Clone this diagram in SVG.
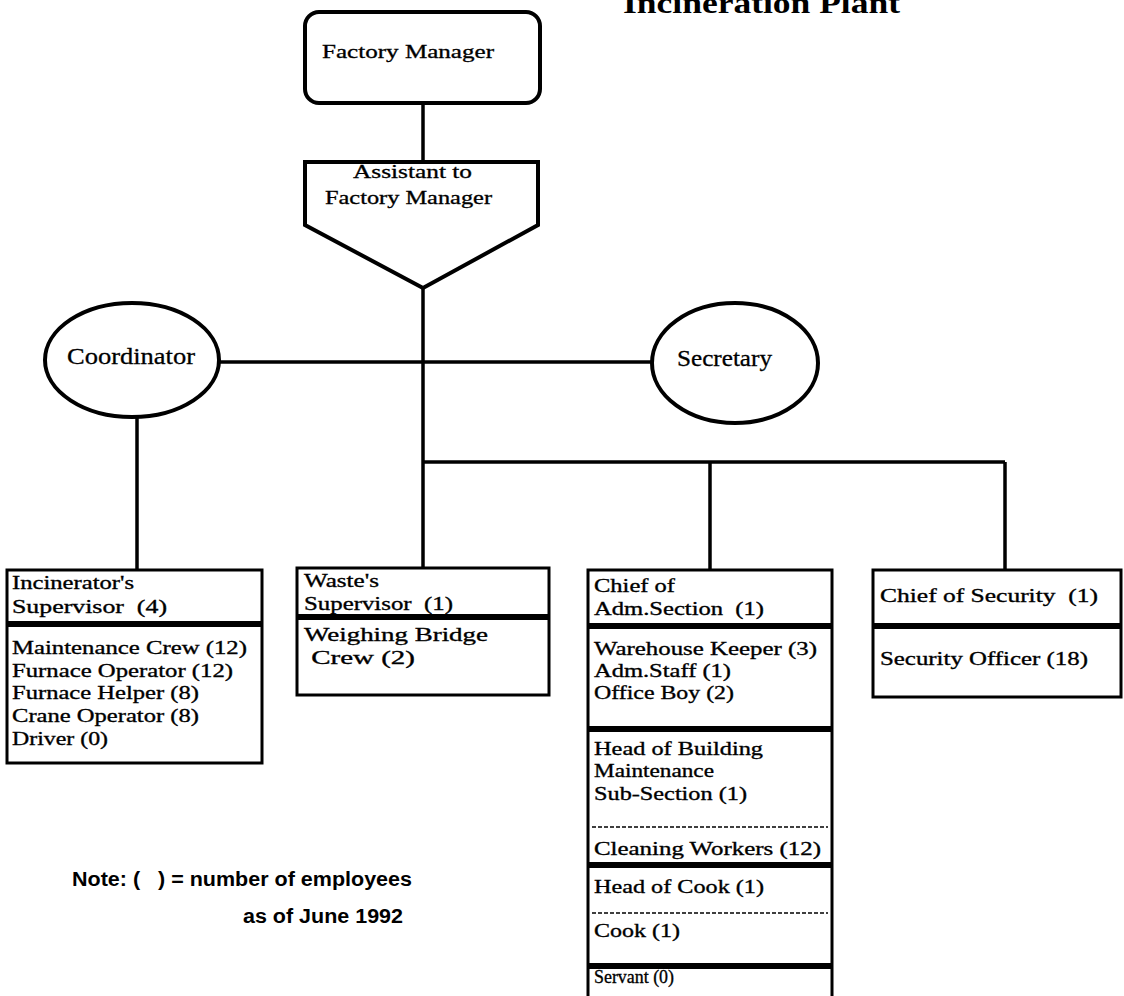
<svg xmlns="http://www.w3.org/2000/svg" width="1124" height="996" viewBox="0 0 1124 996">
<style>
.bg{fill:#fff}
.shape{fill:#fff;stroke:#000;stroke-width:4}
.box{fill:#fff;stroke:#000;stroke-width:3}
.sep{stroke:#000;stroke-width:6}
.dash{stroke:#000;stroke-width:1.5;stroke-dasharray:4 2}
.conn{stroke:#000;stroke-width:3.5;fill:none}
text{white-space:pre}
.t{font-family:"Liberation Serif","Times New Roman",serif;font-size:19.5px;fill:#000;stroke:#000;stroke-width:0.35}
.tl{font-family:"Liberation Serif","Times New Roman",serif;font-size:18px;fill:#000;stroke:#000;stroke-width:0.3}
.tc{font-family:"Liberation Serif","Times New Roman",serif;font-size:24px;fill:#000;stroke:#000;stroke-width:0.3}
.title{font-family:"Liberation Serif","Times New Roman",serif;font-size:30px;font-weight:bold;fill:#000}
.note{font-family:"Liberation Sans",Arial,sans-serif;font-size:20px;font-weight:bold;fill:#000}
</style>
<rect class="bg" x="0" y="0" width="1124" height="996"/>
<text class="title" x="623" y="13" textLength="277" lengthAdjust="spacingAndGlyphs">Incineration Plant</text>

<g id="connectors">
<line class="conn" x1="423" y1="103" x2="423" y2="162"/>
<line class="conn" x1="423" y1="288" x2="423" y2="568"/>
<line class="conn" x1="219" y1="362" x2="652" y2="362"/>
<line class="conn" x1="137" y1="417" x2="137" y2="570"/>
<line class="conn" x1="423" y1="462" x2="1005" y2="462"/>
<line class="conn" x1="710" y1="462" x2="710" y2="570"/>
<line class="conn" x1="1005" y1="462" x2="1005" y2="570"/>
</g>

<g id="factory-manager">
<rect class="shape" x="305" y="12" width="235" height="91" rx="14"/>
<text class="tl" x="322" y="58" textLength="172" lengthAdjust="spacingAndGlyphs">Factory Manager</text>
</g>

<g id="assistant">
<polygon class="shape" points="305,162 538,162 538,225 423,288 305,225"/>
<text class="tl" x="353" y="178" textLength="119" lengthAdjust="spacingAndGlyphs">Assistant to</text>
<text class="tl" x="325" y="204" textLength="167" lengthAdjust="spacingAndGlyphs">Factory Manager</text>
</g>

<g id="coordinator">
<ellipse class="shape" cx="132" cy="360" rx="87" ry="57"/>
<text class="tc" x="67" y="364" textLength="128" lengthAdjust="spacingAndGlyphs">Coordinator</text>
</g>

<g id="secretary">
<ellipse class="shape" cx="735" cy="363" rx="83" ry="60"/>
<text class="tc" x="677" y="366" textLength="95" lengthAdjust="spacingAndGlyphs">Secretary</text>
</g>

<g id="incinerator-supervisor">
<rect class="box" x="7" y="570" width="255" height="193"/>
<line class="sep" x1="7" y1="624" x2="262" y2="624"/>
<text class="t" x="12" y="589" textLength="122" lengthAdjust="spacingAndGlyphs">Incinerator's</text>
<text class="t" x="12" y="613" textLength="155" lengthAdjust="spacingAndGlyphs">Supervisor  (4)</text>
<text class="t" x="12" y="654" textLength="235" lengthAdjust="spacingAndGlyphs">Maintenance Crew (12)</text>
<text class="t" x="12" y="677" textLength="221" lengthAdjust="spacingAndGlyphs">Furnace Operator (12)</text>
<text class="t" x="12" y="699" textLength="187" lengthAdjust="spacingAndGlyphs">Furnace Helper (8)</text>
<text class="t" x="12" y="722" textLength="187" lengthAdjust="spacingAndGlyphs">Crane Operator (8)</text>
<text class="t" x="12" y="745" textLength="96" lengthAdjust="spacingAndGlyphs">Driver (0)</text>
</g>

<g id="waste-supervisor">
<rect class="box" x="297" y="568" width="252" height="127"/>
<line class="sep" x1="297" y1="617" x2="549" y2="617"/>
<text class="t" x="304" y="587" textLength="75" lengthAdjust="spacingAndGlyphs">Waste's</text>
<text class="t" x="304" y="610" textLength="149" lengthAdjust="spacingAndGlyphs">Supervisor  (1)</text>
<text class="t" x="304" y="641" textLength="184" lengthAdjust="spacingAndGlyphs">Weighing Bridge</text>
<text class="t" x="304" y="664" textLength="111" lengthAdjust="spacingAndGlyphs"> Crew (2)</text>
</g>

<g id="chief-adm">
<rect class="box" x="588" y="570" width="244" height="440"/>
<line class="sep" x1="588" y1="626" x2="832" y2="626"/>
<line class="sep" x1="588" y1="729" x2="832" y2="729"/>
<line class="sep" x1="588" y1="865" x2="832" y2="865"/>
<line class="sep" x1="588" y1="966" x2="832" y2="966"/>
<line class="dash" x1="592" y1="827" x2="828" y2="827"/>
<line class="dash" x1="592" y1="913" x2="828" y2="913"/>
<text class="t" x="594" y="592" textLength="81" lengthAdjust="spacingAndGlyphs">Chief of</text>
<text class="t" x="594" y="615" textLength="170" lengthAdjust="spacingAndGlyphs">Adm.Section  (1)</text>
<text class="t" x="594" y="655" textLength="223" lengthAdjust="spacingAndGlyphs">Warehouse Keeper (3)</text>
<text class="t" x="594" y="677" textLength="137" lengthAdjust="spacingAndGlyphs">Adm.Staff (1)</text>
<text class="t" x="594" y="699" textLength="140" lengthAdjust="spacingAndGlyphs">Office Boy (2)</text>
<text class="t" x="594" y="755" textLength="169" lengthAdjust="spacingAndGlyphs">Head of Building</text>
<text class="t" x="594" y="777" textLength="120" lengthAdjust="spacingAndGlyphs">Maintenance</text>
<text class="t" x="594" y="800" textLength="153" lengthAdjust="spacingAndGlyphs">Sub-Section (1)</text>
<text class="t" x="594" y="855" textLength="227" lengthAdjust="spacingAndGlyphs">Cleaning Workers (12)</text>
<text class="t" x="594" y="893" textLength="170" lengthAdjust="spacingAndGlyphs">Head of Cook (1)</text>
<text class="t" x="594" y="937" textLength="86" lengthAdjust="spacingAndGlyphs">Cook (1)</text>
<text class="t" x="594" y="983" textLength="80" lengthAdjust="spacingAndGlyphs">Servant (0)</text>
</g>

<g id="chief-security">
<rect class="box" x="873" y="570" width="248" height="127"/>
<line class="sep" x1="873" y1="626" x2="1121" y2="626"/>
<text class="t" x="880" y="602" textLength="218" lengthAdjust="spacingAndGlyphs">Chief of Security  (1)</text>
<text class="t" x="880" y="665" textLength="208" lengthAdjust="spacingAndGlyphs">Security Officer (18)</text>
</g>

<g id="note">
<text class="note" x="72" y="886" textLength="340" lengthAdjust="spacingAndGlyphs">Note: (   ) = number of employees</text>
<text class="note" x="243" y="923" textLength="160" lengthAdjust="spacingAndGlyphs">as of June 1992</text>
</g>
</svg>
